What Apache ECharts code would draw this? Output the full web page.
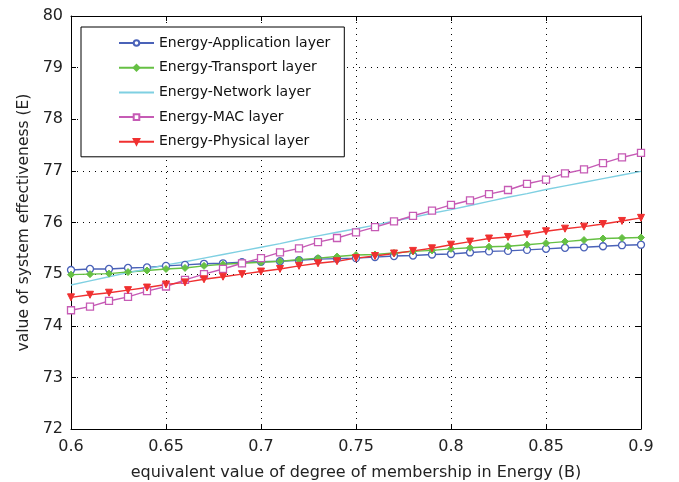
<!DOCTYPE html>
<html>
<head>
<meta charset="utf-8">
<script src="https://cdn.jsdelivr.net/npm/echarts@6/dist/echarts.min.js"></script>
<style>
html,body{margin:0;padding:0;background:#fff;}
#main{width:679px;height:482px;}
</style>
</head>
<body>
<div id="main"></div>
<script>
var xValues = [0.60,0.61,0.62,0.63,0.64,0.65,0.66,0.67,0.68,0.69,0.70,0.71,0.72,0.73,0.74,0.75,0.76,0.77,0.78,0.79,0.80,0.81,0.82,0.83,0.84,0.85,0.86,0.87,0.88,0.89,0.90];
var applicationLayer = [75.08,75.10,75.10,75.12,75.13,75.16,75.18,75.20,75.21,75.23,75.24,75.25,75.27,75.29,75.30,75.31,75.33,75.35,75.36,75.38,75.39,75.42,75.44,75.45,75.47,75.49,75.51,75.52,75.54,75.56,75.57];
var transportLayer = [74.99,75.00,75.01,75.04,75.07,75.10,75.12,75.16,75.19,75.21,75.23,75.25,75.28,75.31,75.34,75.37,75.38,75.41,75.44,75.46,75.49,75.51,75.53,75.54,75.57,75.60,75.63,75.66,75.69,75.70,75.71];
var networkLayer = [74.79,74.87,74.95,75.03,75.10,75.18,75.24,75.31,75.38,75.45,75.52,75.59,75.67,75.74,75.81,75.88,75.95,76.03,76.10,76.18,76.25,76.33,76.41,76.49,76.56,76.64,76.71,76.78,76.85,76.92,76.99];
var macLayer = [74.30,74.37,74.48,74.56,74.67,74.76,74.89,75.00,75.10,75.21,75.31,75.42,75.50,75.62,75.70,75.81,75.91,76.02,76.13,76.23,76.34,76.43,76.55,76.63,76.75,76.83,76.95,77.03,77.15,77.26,77.35];
var physicalLayer = [74.55,74.60,74.64,74.69,74.74,74.80,74.84,74.90,74.95,75.00,75.05,75.10,75.16,75.21,75.25,75.31,75.35,75.40,75.45,75.50,75.57,75.63,75.69,75.72,75.77,75.83,75.88,75.92,75.97,76.03,76.09];
var seriesNames = ['Energy-Application layer','Energy-Transport layer','Energy-Network layer','Energy-MAC layer','Energy-Physical layer'];

function pairs(arr){ return arr.map(function(v,i){ return [xValues[i], v]; }); }

var chart = echarts.init(document.getElementById('main'));
var font = '"DejaVu Sans", Verdana, sans-serif';
var gridLine = {show:true, lineStyle:{color:'#000', type:[1,5], width:1}};
var legendData = seriesNames.map(function(n, i){
  if (i === 2) return {name:n, itemStyle:{opacity:0}};
  return {name:n};
});
var option = {
  backgroundColor:'#fff',
  animation:false,
  grid:{left:71, right:38, top:16, bottom:53, containLabel:false, outerBoundsMode:'none'},
  legend:{
    orient:'vertical', left:81, top:27,
    padding:[9,14,8,37],
    itemGap:10.7, itemWidth:35, itemHeight:7,
    backgroundColor:'#fff', borderColor:'#000', borderWidth:1,
    textStyle:{fontFamily:font, fontSize:14, lineHeight:14, color:'#111', padding:[0,0,0,0]},
    data:legendData
  },
  xAxis:[{
    type:'value', min:0.6, max:0.9, interval:0.05,
    name:'equivalent value of degree of membership in Energy (B)',
    nameLocation:'middle', nameGap:36,
    nameTextStyle:{fontFamily:font, fontSize:16, color:'#222'},
    axisLine:{lineStyle:{color:'#000', width:1}},
    axisTick:{inside:true, length:5, lineStyle:{color:'#000'}},
    axisLabel:{fontFamily:font, fontSize:16, color:'#222', margin:10,
      formatter:function(v){ return String(+(+v).toFixed(2)); }},
    splitLine:gridLine
  },{
    type:'value', min:0.6, max:0.9, interval:0.05, position:'top',
    axisLine:{show:true, onZero:false, lineStyle:{color:'#000', width:1}},
    axisTick:{show:true, inside:true, length:5, lineStyle:{color:'#000'}},
    axisLabel:{show:false}, splitLine:{show:false}
  }],
  yAxis:[{
    type:'value', min:72, max:80, interval:1,
    name:'value of system effectiveness (E)',
    nameLocation:'middle', nameGap:38,
    nameTextStyle:{fontFamily:font, fontSize:15.5, color:'#222'},
    axisLine:{show:true, onZero:false, lineStyle:{color:'#000', width:1}},
    axisTick:{show:true, inside:true, length:5, lineStyle:{color:'#000'}},
    axisLabel:{fontFamily:font, fontSize:16, color:'#222', margin:8},
    splitLine:gridLine
  },{
    type:'value', min:72, max:80, interval:1, position:'right',
    axisLine:{show:true, onZero:false, lineStyle:{color:'#000', width:1}},
    axisTick:{show:true, inside:true, length:5, lineStyle:{color:'#000'}},
    axisLabel:{show:false}, splitLine:{show:false}
  }],
  series:[
    {name:seriesNames[0], type:'line', data:pairs(applicationLayer), symbol:'circle', symbolSize:7,
     color:'#4a62b8', lineStyle:{width:1.4, color:'#4a62b8'},
     itemStyle:{color:'#fff', borderColor:'#4a62b8', borderWidth:1.3}},
    {name:seriesNames[1], type:'line', data:pairs(transportLayer), symbol:'diamond', symbolSize:7,
     color:'#66c044', lineStyle:{width:1.4, color:'#66c044'},
     itemStyle:{color:'#66c044', borderColor:'#66c044', borderWidth:1}},
    {name:seriesNames[2], type:'line', data:pairs(networkLayer), symbol:'none',
     color:'#7fd0e2', lineStyle:{width:1.4, color:'#7fd0e2'}},
    {name:seriesNames[3], type:'line', data:pairs(macLayer), symbol:'rect', symbolSize:7,
     color:'#c65bb5', lineStyle:{width:1.4, color:'#c65bb5'},
     itemStyle:{color:'#fff', borderColor:'#c65bb5', borderWidth:1.3}},
    {name:seriesNames[4], type:'line', data:pairs(physicalLayer), symbol:'triangle', symbolRotate:180, symbolSize:7,
     color:'#f03030', lineStyle:{width:1.4, color:'#f03030'},
     itemStyle:{color:'#f03030', borderColor:'#f03030', borderWidth:1}}
  ]
};
chart.setOption(option);
</script>
</body>
</html>
